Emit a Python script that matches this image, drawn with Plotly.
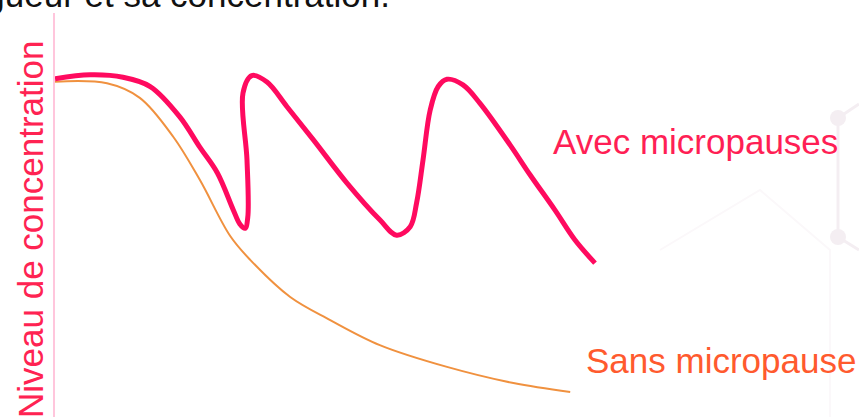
import plotly.graph_objects as go

# Time (arbitrary units) and concentration level (0-100)
avec_x = [0.0, 0.44, 0.85, 1.19, 1.56, 1.81, 2.03, 2.23, 2.31, 2.375, 2.41, 2.40, 2.35, 2.46, 2.65,
          2.90, 3.23, 3.65, 4.06, 4.27, 4.44, 4.52, 4.60, 4.69, 4.79, 4.90, 5.10, 5.31, 5.69,
          5.94, 6.25, 6.50, 6.75]
avec_y = [83.7, 84.7, 84.1, 81.8, 74.3, 66.8, 60.4, 51.2, 47.8, 46.7, 49.5, 63.6, 80.2, 84.5, 82.9,
          76.8, 68.6, 57.9, 48.8, 45.0, 47.1, 53.0, 63.6, 76.0, 81.8, 83.6, 82.2, 77.7, 67.3,
          59.9, 51.2, 43.8, 38.1]

sans_x = [0.0, 0.65, 1.06, 1.48, 1.81, 2.19, 2.44, 2.94, 3.44, 4.06, 4.90, 5.73, 6.44]
sans_y = [83.0, 82.6, 79.0, 69.3, 58.7, 44.8, 38.9, 29.7, 24.0, 17.8, 12.4, 8.4, 6.2]

label_avec = "Avec micropauses"
label_sans = "Sans micropause"
y_title = "Niveau de concentration"
top_text = "vigueur et sa concentration."

FONT = "Arial, Liberation Sans, sans-serif"

fig = go.Figure()
fig.add_trace(go.Scatter(x=sans_x, y=sans_y, mode="lines",
                         line=dict(color="#F0913F", width=2, shape="spline", smoothing=1.0),
                         hoverinfo="skip", showlegend=False))
fig.add_trace(go.Scatter(x=avec_x, y=avec_y, mode="lines",
                         line=dict(color="#FF0A5F", width=5, shape="spline", smoothing=1.0),
                         hoverinfo="skip", showlegend=False))

# faint decorative background molecules
deco = "#F4EEF2"
def px(x):
    return (x - 55) / 804
def py(y):
    return (417 - y) / 404
shapes = [
    dict(type="line", xref="paper", yref="paper", x0=px(838), y0=py(118), x1=px(838), y1=py(237),
         line=dict(color=deco, width=3), layer="below"),
    dict(type="line", xref="paper", yref="paper", x0=px(838), y0=py(118), x1=1.0, y1=py(104),
         line=dict(color=deco, width=3), layer="below"),
    dict(type="line", xref="paper", yref="paper", x0=px(838), y0=py(237), x1=1.0, y1=py(250),
         line=dict(color=deco, width=3), layer="below"),
    dict(type="circle", xref="paper", yref="paper", x0=px(830), y0=py(126), x1=px(846), y1=py(110),
         fillcolor=deco, line=dict(width=0), layer="below"),
    dict(type="circle", xref="paper", yref="paper", x0=px(830), y0=py(245), x1=px(846), y1=py(229),
         fillcolor=deco, line=dict(width=0), layer="below"),
    dict(type="path", xref="paper", yref="paper",
         path="M %f %f L %f %f L %f %f L %f %f" % (px(660), py(250), px(760), py(190),
                                                   px(830), py(250), px(830), py(417)),
         line=dict(color="#FBF8FA", width=2), layer="below"),
]

annotations = [
    dict(text=label_avec, x=6.2, y=68.3, xref="x", yref="y", xanchor="left", yanchor="middle",
         showarrow=False, font=dict(family=FONT, size=35, color="#FF1F55")),
    dict(text=label_sans, x=6.61, y=13.9, xref="x", yref="y", xanchor="left", yanchor="middle",
         showarrow=False, font=dict(family=FONT, size=35, color="#FF5A2E")),
    dict(text=y_title, x=0, y=py(230), xref="paper", yref="paper", xanchor="center", yanchor="middle",
         xshift=30 - 55, textangle=-90, showarrow=False, font=dict(family=FONT, size=35, color="#FF2352")),
    dict(text=top_text, x=0, y=1, xref="paper", yref="paper", xanchor="right", yanchor="bottom",
         xshift=392 - 55, yshift=-3, showarrow=False, font=dict(family=FONT, size=35, color="#111111")),
]

fig.update_layout(
    width=859, height=417,
    margin=dict(l=55, r=0, t=13, b=0),
    paper_bgcolor="white", plot_bgcolor="white",
    shapes=shapes, annotations=annotations,
    xaxis=dict(range=[0, 804 / 80], showgrid=False, zeroline=False, showticklabels=False, ticks="",
               showline=False),
    yaxis=dict(range=[0, 100], showgrid=False, zeroline=False, showticklabels=False, ticks="",
               showline=True, linecolor="#FFC6DC", linewidth=2),
)

fig.write_html("out.html")
